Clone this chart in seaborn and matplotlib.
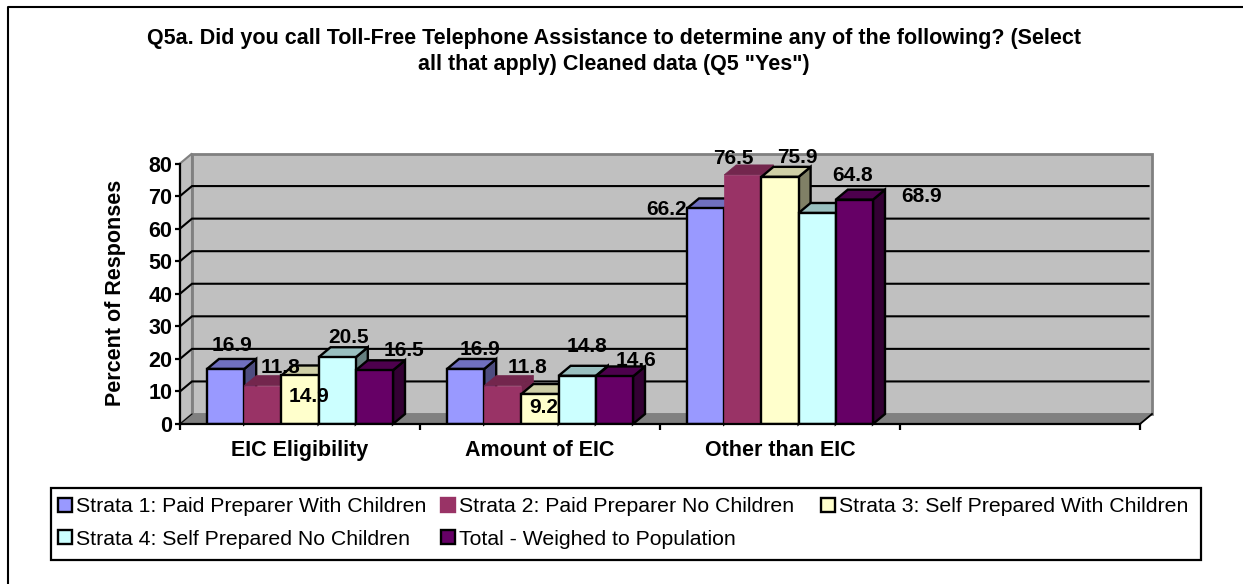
import numpy as np
import pandas as pd
import matplotlib
matplotlib.use("Agg")
import matplotlib.pyplot as plt
from matplotlib.patches import Polygon, Rectangle, Patch
from matplotlib.lines import Line2D
import seaborn as sns

W, H = 1243, 584
categories = ["EIC Eligibility", "Amount of EIC", "Other than EIC", " "]
series_names = ["Strata 1: Paid Preparer With Children", "Strata 2: Paid Preparer No Children",
                "Strata 3: Self Prepared With Children", "Strata 4: Self Prepared No Children",
                "Total - Weighed to Population"]
strata1 = [16.9, 16.9, 66.2]
strata2 = [11.8, 11.8, 76.5]
strata3 = [14.9, 9.2, 75.9]
strata4 = [20.5, 14.8, 64.8]
total = [16.5, 14.6, 68.9]
all_series = [strata1, strata2, strata3, strata4, total]

front = ["#9999FF", "#993366", "#FFFFCC", "#CCFFFF", "#660066"]
top = ["#7070C0", "#73264D", "#CFCFA6", "#99C0C0", "#4D004D"]
side = ["#4D4D80", "#73264D", "#808066", "#668080", "#330033"]
edges = ["black", "#993366", "black", "black", "black"]

# label offsets from the top centre of each bar's front, in pixels (x right, y up)
offsets = [
    [(6.5, 23), (14.5, 19), (-39.5, -1)],
    [(17.5, 18.5), (24.5, 18.5), (-9.5, 16.6)],
    [(8.5, -20.6), (3.5, -13), (17.5, 19.6)],
    [(11.5, 20), (9.5, 29), (35.5, 37.8)],
    [(29.5, 20), (21.5, 16.4), (67.5, 3.4)],
]

plt.rcParams["font.family"] = ["Liberation Sans", "Arial", "DejaVu Sans"]
df = pd.DataFrame([
    {"cat": c, "series": n, "value": v}
    for n, vals in zip(series_names, all_series) for c, v in zip(categories, vals)
])

fig = plt.figure(figsize=(W / 100, H / 100), dpi=100, facecolor="white")
X0, X1, Y0, Y1 = 180, 1140, 424, 163.5
ax = fig.add_axes([X0 / W, 1 - Y0 / H, (X1 - X0) / W, (Y0 - Y1) / H])
sns.barplot(data=df, x="cat", y="value", hue="series", order=categories, hue_order=series_names,
            palette=front, saturation=1, width=0.775, gap=0, errorbar=None, legend=False, ax=ax,
            edgecolor="black", linewidth=0)
ax.set_xlim(-0.5, 3.5)
ax.set_ylim(0, 80)
ax.patch.set_visible(False)
for s in ["top", "right"]:
    ax.spines[s].set_visible(False)
for s in ["left", "bottom"]:
    ax.spines[s].set_linewidth(1.6)
    ax.spines[s].set_color("black")
    ax.spines[s].set_zorder(6)

DX = 12 / (X1 - X0) * 4
DY = 10 / (Y0 - Y1) * 80
xl, xr = -0.5, 3.5

# walls and floor
floor = Polygon([(xl, 0), (xl + DX, DY), (xr + DX, DY), (xr, 0)], closed=True, fc="#808080", ec="#808080",
                lw=0.8, zorder=1, clip_on=False)
wall_left = Polygon([(xl, 0), (xl + DX, DY), (xl + DX, 80 + DY), (xl, 80)], closed=True, fc="#C0C0C0",
                    ec="#808080", lw=1.5, zorder=0.9, clip_on=False)
wall_back = Rectangle((xl + DX, DY), xr - xl, 80, fc="#C0C0C0", ec="#808080", lw=2, zorder=0.8, clip_on=False)
for p in [wall_back, wall_left, floor]:
    ax.add_patch(p)
yticks = np.arange(0, 81, 10)
for y in yticks[1:-1]:
    ax.plot([xl, xl + DX, xr + DX - 0.01], [y, y + DY, y + DY], color="black", lw=1.5, zorder=1.5, clip_on=False,
            solid_joinstyle="miter", solid_capstyle="butt")
ax.plot([xr, xr + DX], [0, DY], color="black", lw=1.3, zorder=5, clip_on=False)
ax.plot([xl, xl + DX], [0, DY], color="black", lw=0.8, zorder=1.4, clip_on=False)

# extrude bars
for i, cont in enumerate(ax.containers):
    for j, bar in enumerate(cont.patches):
        x, w, h = bar.get_x(), bar.get_width(), bar.get_height()
        if not np.isfinite(h):
            continue
        base = 2 + i * 0.5
        lw = 1.7 if i != 1 else 0.5
        ec = "black" if i != 1 else top[1]
        bar.set_zorder(base + 0.3)
        bar.set_edgecolor(edges[i])
        bar.set_linewidth(lw)
        bar.set_joinstyle("miter")
        ax.add_patch(Polygon([(x, h), (x + DX, h + DY), (x + w + DX, h + DY), (x + w, h)], closed=True,
                             fc=top[i], ec=ec, lw=lw, zorder=base + 0.1, clip_on=False))
        ax.add_patch(Polygon([(x + w, 0), (x + w + DX, DY), (x + w + DX, h + DY), (x + w, h)], closed=True,
                             fc=side[i], ec=ec, lw=lw, zorder=base, clip_on=False))
        ox, oy = offsets[i][j]
        ax.annotate(f"{h:.1f}", (x + w / 2, h), xytext=(ox * 0.72, oy * 0.72), textcoords="offset points",
                    ha="center", va="center", fontsize=15, fontweight="bold", color="black", zorder=10,
                    annotation_clip=False)

ax.set_yticks(yticks)
ax.set_xticks(np.arange(-0.5, 3.6, 1))
ax.set_xticklabels([])
ax.tick_params(axis="y", length=3.5, width=1.6, labelsize=15.5, pad=2, color="black")
ax.tick_params(axis="x", length=4.5, width=1.6, color="black")
for l in ax.get_yticklabels():
    l.set_fontweight("bold")
ax.set_xlabel("")
ax.set_ylabel("")
for k, c in enumerate(categories[:3]):
    ax.text(k, -0.1, c, transform=ax.get_xaxis_transform(), ha="center", va="center",
            fontsize=15.5, fontweight="bold")
fig.text(116 / W, 1 - 293 / H, "Percent of Responses", rotation=90, ha="center", va="center",
         fontsize=15.5, fontweight="bold")
fig.text(614 / W, 1 - 51.5 / H,
         "Q5a. Did you call Toll-Free Telephone Assistance to determine any of the following? (Select\n"
         "all that apply) Cleaned data (Q5 \"Yes\")",
         ha="center", va="center", fontsize=15.5, fontweight="bold", linespacing=1.35)

# outer frame (left and top edges, running off the picture)
fig.add_artist(Line2D([7.5 / W, 7.5 / W, 1], [0, 1 - 6.5 / H, 1 - 6.5 / H], color="black", lw=1.5))

# legend: frame, first two columns, third column
fig.add_artist(Rectangle((50.5 / W, 1 - 560 / H), 1150 / W, 72.5 / H, transform=fig.transFigure,
                         fc="white", ec="black", lw=1.6))
legend_kw = dict(loc="upper left", borderaxespad=0, frameon=False, fontsize=15.3, handlelength=0.67,
                 handleheight=0.67, handletextpad=0.2, columnspacing=0.67, labelspacing=0.62, borderpad=0)
order = [0, 3, 1, 4]
leg1 = fig.legend([Patch(fc=front[i], ec=edges[i], lw=1.7) for i in order], [series_names[i] for i in order],
                  ncol=2, bbox_to_anchor=(57.5 / W, 1 - 497.5 / H), **legend_kw)
leg2 = fig.legend([Patch(fc=front[2], ec=edges[2], lw=1.7)], [series_names[2]],
                  ncol=1, bbox_to_anchor=(821 / W, 1 - 497.5 / H), **legend_kw)
fig.savefig("out.png", dpi=100)
